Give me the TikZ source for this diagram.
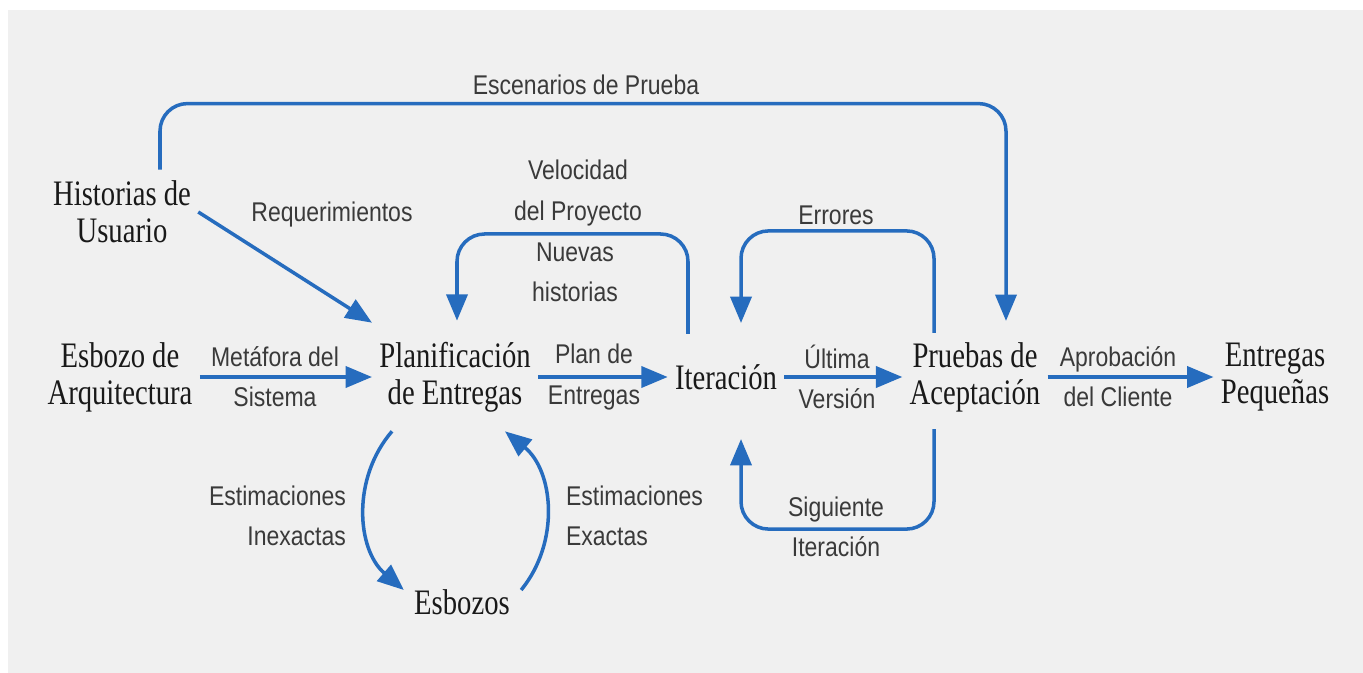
\documentclass[tikz,border=0pt]{standalone}
\usepackage{fontspec}
\setmainfont{Liberation Serif}[FakeStretch=0.80]
\newfontfamily\lblfont{Liberation Sans}[FakeStretch=0.85]
\usepackage{tikz}
\usetikzlibrary{arrows.meta,calc,positioning}
\definecolor{flowblue}{RGB}{38,108,190}
\definecolor{paper}{RGB}{240,240,240}
\definecolor{lblgray}{RGB}{58,58,58}

\begin{document}
\begin{tikzpicture}[x=0.02cm, y=-0.02cm,
    stage/.style={align=center, inner sep=4pt, font=\fontsize{20.4}{21}\selectfont, text=black!90},
    lbl/.style={align=center, inner sep=1pt, font=\lblfont\fontsize{15.4}{22.8}\selectfont, text=lblgray},
    flow/.style={draw=flowblue, line width=2pt, -{Triangle[length=15pt, width=12pt]}},
    loopflow/.style={flow, rounded corners=0.55cm}
]
    \useasboundingbox (0,0) rectangle (1363,673);
    \fill[white] (0,0) rectangle (1363,673);
    \fill[paper] (8,10) rectangle (1363,673);

    \node[stage] (hist) at (122,212) {Historias de\\Usuario};
    \node[stage] (arq) at (120,377) {Esbozo de\\Arquitectura};
    \node[stage] (plan) at (455,377) {Planificación\\de Entregas};
    \node[stage] (iter) at (726,377) {Iteración};
    \node[stage] (prueb) at (975,377) {Pruebas de\\Aceptación};
    \node[stage] (peq) at (1275,377) {Entregas\\Pequeñas};
    \node[stage] (esbozos) at (462,602) {Esbozos};

    \node[lbl] (scen) at (586,85) {Escenarios de Prueba};
    \node[lbl] (req) at (332,215) {Requerimientos};
    \node[lbl] (vel) at (578,193) {Velocidad\\del Proyecto};
    \node[lbl] (nuevas) at (575,272) {Nuevas\\historias};
    \node[lbl] (err) at (836,215) {Errores};
    \node[lbl] (metaf) at (275,377) {Metáfora del\\Sistema};
    \node[lbl] (plande) at (594,377) {Plan de\\Entregas};
    \node[lbl] (ultima) at (837,377) {Última\\Versión};
    \node[lbl] (aprob) at (1118,377) {Aprobación\\del Cliente};
    \node[lbl, anchor=east, align=right] (inexact) at (348,516) {Estimaciones\\Inexactas};
    \node[lbl, anchor=west, align=left] (exact) at (564,516) {Estimaciones\\Exactas};
    \node[lbl] (sigu) at (836,527) {Siguiente\\Iteración};

    \draw[flow] (arq.east) -- (plan.west);
    \draw[flow] (plan.east) -- (iter.west);
    \draw[flow] (iter.east) -- (prueb.west);
    \draw[flow] (prueb.east) -- (peq.west);
    \draw[flow] (hist.east) -- ($(plan.north west)+(0,-12)$);

    \draw[loopflow] ($(hist.north)+(38,-4)$) -- ++(0,-66) -| ($(prueb.north)+(31,-14)$);
    \draw[loopflow] ($(iter.north)+(-38,-23)$) -- ++(0,-100) -| ($(plan.north)+(2,-14)$);
    \draw[loopflow] ($(prueb.north)+(-41,-2)$) -- ++(0,-102) -| ($(iter.north)+(15,-34)$);
    \draw[loopflow] ($(prueb.south)+(-41,10)$) -- ++(0,100) -| ($(iter.south)+(15,42)$);

    \draw[flow] ($(plan.south)+(-63,12)$) to[bend right=45] ($(esbozos.west)+(-3,-12)$);
    \draw[flow] ($(esbozos.east)+(4,-12)$) to[bend right=45] ($(plan.south)+(50,12)$);
\end{tikzpicture}
\end{document}
